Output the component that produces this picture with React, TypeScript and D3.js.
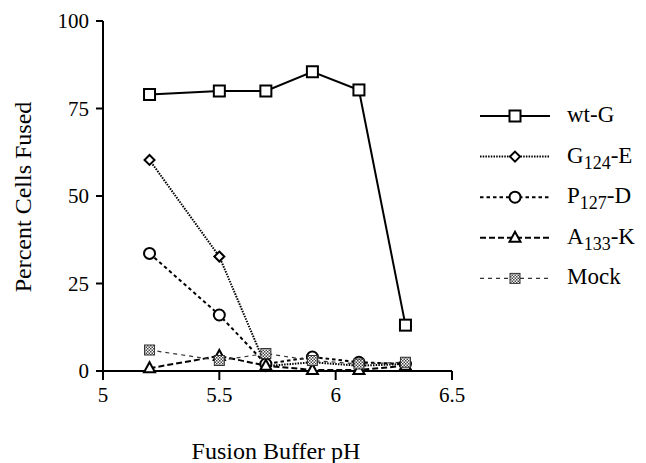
import React from "react";
import * as d3 from "d3";

const phValues = [5.2, 5.5, 5.7, 5.9, 6.1, 6.3];
const wtG = [79, 80, 80, 85.5, 80.3, 13.1];
const g124E = [60.3, 32.7, 1.4, 2.5, 1.5, 2];
const p127D = [33.6, 16, 2, 4, 2.5, 2];
const a133K = [0.8, 4.3, 1.5, 0.3, 0.3, 1.5];
const mock = [6, 3, 5, 3, 2, 2.5];
const xTicks = [5, 5.5, 6, 6.5];
const yTicks = [0, 25, 50, 75, 100];

type SeriesDef = {
  name: string;
  sub?: string;
  suffix?: string;
  values: number[];
  dash: string | null;
  width: number;
  marker: "square" | "diamond" | "circle" | "triangle" | "hatch";
};

const series: SeriesDef[] = [
  { name: "wt-G", values: wtG, dash: null, width: 2, marker: "square" },
  { name: "G", sub: "124", suffix: "-E", values: g124E, dash: "1.5,1.2", width: 2, marker: "diamond" },
  { name: "P", sub: "127", suffix: "-D", values: p127D, dash: "3.5,3", width: 2, marker: "circle" },
  { name: "A", sub: "133", suffix: "-K", values: a133K, dash: "6,3", width: 2, marker: "triangle" },
  { name: "Mock", values: mock, dash: "4,4", width: 1.2, marker: "hatch" },
];

const FF = '"Liberation Serif", Tinos, monospace';
const CSS = `.serif-text, .serif-text tspan { font-family: "Liberation Serif", Tinos, monospace !important; }`;

function Marker({ type, x, y }: { type: SeriesDef["marker"]; x: number; y: number }) {
  const sw = 2;
  if (type === "square") {
    return <rect x={x - 5.5} y={y - 5.5} width={11} height={11} fill="white" stroke="black" strokeWidth={sw} />;
  }
  if (type === "diamond") {
    return (
      <path d={`M${x},${y - 5} L${x + 5},${y} L${x},${y + 5} L${x - 5},${y} Z`} fill="white" stroke="black" strokeWidth={sw} />
    );
  }
  if (type === "circle") {
    return <circle cx={x} cy={y} r={5.5} fill="white" stroke="black" strokeWidth={sw} />;
  }
  if (type === "triangle") {
    return (
      <path d={`M${x},${y - 6} L${x + 5.5},${y + 4} L${x - 5.5},${y + 4} Z`} fill="white" stroke="black" strokeWidth={sw} />
    );
  }
  return <rect x={x - 5} y={y - 5} width={10} height={10} fill="url(#hatch)" stroke="#333" strokeWidth={1} />;
}

export default function App() {
  const W = 646;
  const H = 463;
  const x = d3.scaleLinear().domain([5, 6.5]).range([103, 452]);
  const y = d3.scaleLinear().domain([0, 100]).range([371, 21]);
  const line = d3
    .line<number>()
    .x((_, i) => x(phValues[i]))
    .y((d) => y(d));

  const legendY0 = 116;
  const legendStep = 40.6;

  return (
    <div style={{ margin: "-8px 0 0 -8px", width: W, height: H }}>
      <style>{CSS}</style>
      <svg width={W} height={H} fontFamily={FF}>
        <defs>
          <pattern id="hatch" width="3" height="3" patternUnits="userSpaceOnUse">
            <rect width="3" height="3" fill="white" />
            <rect width="1.5" height="1.5" fill="#444" />
            <rect x="1.5" y="1.5" width="1.5" height="1.5" fill="#444" />
          </pattern>
        </defs>

        {/* lines */}
        {series.map((s) => (
          <path
            key={s.name}
            d={line(s.values) || ""}
            fill="none"
            stroke={s.marker === "hatch" ? "#333" : "black"}
            strokeWidth={s.width}
            strokeDasharray={s.dash || undefined}
          />
        ))}

        {/* axes */}
        <line x1={x(5)} x2={x(5)} y1={y(0)} y2={y(100)} stroke="black" strokeWidth={2} />
        <line x1={x(5)} x2={x(6.5)} y1={y(0)} y2={y(0)} stroke="black" strokeWidth={2} />
        {yTicks.map((t) => (
          <g key={"y" + t}>
            <line x1={x(5) - 7} x2={x(5)} y1={y(t)} y2={y(t)} stroke="black" strokeWidth={2} />
            <text className="serif-text" x={89} y={y(t) + 7} textAnchor="end" fontSize={21}>
              {String(t)}
            </text>
          </g>
        ))}
        {xTicks.map((t) => (
          <g key={"x" + t}>
            <line x1={x(t)} x2={x(t)} y1={y(0)} y2={y(0) + 9} stroke="black" strokeWidth={2} />
            <text className="serif-text" x={x(t)} y={402} textAnchor="middle" fontSize={21}>
              {String(t)}
            </text>
          </g>
        ))}

        {/* markers */}
        {series.map((s) => (
          <g key={"m" + s.name}>
            {s.values.map((v, i) => (
              <Marker key={i} type={s.marker} x={x(phValues[i])} y={y(v)} />
            ))}
          </g>
        ))}

        {/* axis titles */}
        <text className="serif-text" x={276} y={459} textAnchor="middle" fontSize={24}>
          Fusion Buffer pH
        </text>
        <text className="serif-text" transform="translate(31,197) rotate(-90)" textAnchor="middle" fontSize={24}>
          Percent Cells Fused
        </text>

        {/* legend */}
        {series.map((s, i) => {
          const ly = legendY0 + i * legendStep;
          return (
            <g key={"l" + s.name}>
              <line
                x1={480}
                x2={550}
                y1={ly}
                y2={ly}
                stroke={s.marker === "hatch" ? "#333" : "black"}
                strokeWidth={s.width}
                strokeDasharray={s.dash || undefined}
              />
              <Marker type={s.marker} x={515} y={ly} />
              <text className="serif-text" x={567} y={ly + 6} fontSize={23}>
                {s.name}
                {s.sub ? (
                  <tspan fontSize={18} dy={6}>
                    {s.sub}
                  </tspan>
                ) : null}
                {s.suffix ? <tspan dy={s.sub ? -6 : 0}>{s.suffix}</tspan> : null}
              </text>
            </g>
          );
        })}
      </svg>
    </div>
  );
}
